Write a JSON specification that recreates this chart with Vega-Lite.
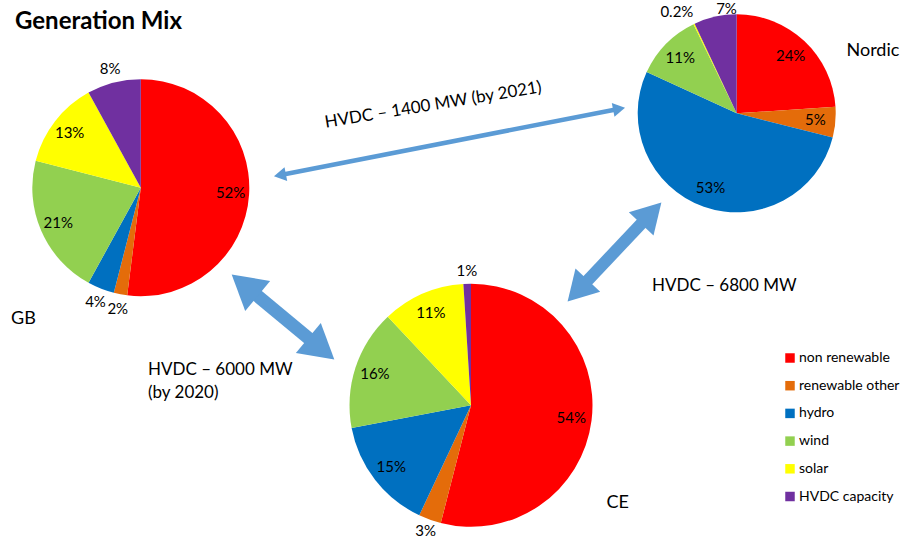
{
  "$schema": "https://vega.github.io/schema/vega-lite/v6.json",
  "width": 903,
  "height": 543,
  "padding": 0,
  "autosize": "none",
  "background": "white",
  "config": {"view": {"stroke": null}, "text": {"font": "Lato", "color": "#000000"}},
  "datasets": {
    "mix": [
      {"region": "GB", "source": "non renewable", "share": 52, "k": 1},
      {"region": "GB", "source": "renewable other", "share": 2, "k": 2},
      {"region": "GB", "source": "hydro", "share": 4, "k": 3},
      {"region": "GB", "source": "wind", "share": 21, "k": 4},
      {"region": "GB", "source": "solar", "share": 13, "k": 5},
      {"region": "GB", "source": "HVDC capacity", "share": 8, "k": 6},
      {"region": "Nordic", "source": "non renewable", "share": 24, "k": 1},
      {"region": "Nordic", "source": "renewable other", "share": 5, "k": 2},
      {"region": "Nordic", "source": "hydro", "share": 53, "k": 3},
      {"region": "Nordic", "source": "wind", "share": 11, "k": 4},
      {"region": "Nordic", "source": "solar", "share": 0.2, "k": 5},
      {"region": "Nordic", "source": "HVDC capacity", "share": 7, "k": 6},
      {"region": "CE", "source": "non renewable", "share": 54, "k": 1},
      {"region": "CE", "source": "renewable other", "share": 3, "k": 2},
      {"region": "CE", "source": "hydro", "share": 15, "k": 3},
      {"region": "CE", "source": "wind", "share": 16, "k": 4},
      {"region": "CE", "source": "solar", "share": 11, "k": 5},
      {"region": "CE", "source": "HVDC capacity", "share": 1, "k": 6}
    ]
  },
  "layer": [
    {
      "data": {"name": "mix"},
      "transform": [{"filter": "datum.region === 'GB'"}, {"calculate": "datum.share + '%'", "as": "label"}],
      "encoding": {
        "x": {"datum": 140.8, "type": "quantitative", "scale": {"domain": [0, 903], "nice": false}, "axis": null},
        "y": {"datum": 187.7, "type": "quantitative", "scale": {"domain": [0, 543], "nice": false, "reverse": true}, "axis": null},
        "theta": {"field": "share", "type": "quantitative", "stack": true},
        "order": {"field": "k", "type": "quantitative"},
        "detail": {"field": "source", "type": "nominal"}
      },
      "layer": [
        {
          "mark": {"type": "arc", "outerRadius": 108.5},
          "encoding": {
            "color": {
              "field": "source", "type": "nominal",
              "scale": {
                "domain": ["non renewable", "renewable other", "hydro", "wind", "solar", "HVDC capacity"],
                "range": ["#FF0000", "#E46C0A", "#0070C0", "#92D050", "#FFFF00", "#7030A0"]
              },
              "legend": {
                "title": null, "orient": "none", "legendX": 783, "legendY": 351,
                "symbolType": "square", "symbolSize": 90, "symbolStrokeWidth": 0,
                "labelFont": "Lato", "labelFontSize": 14, "labelColor": "#000000",
                "rowPadding": 13.7, "labelOffset": 2
              }
            }
          }
        },
        {
          "mark": {"type": "text", "radius": 90, "fontSize": 15},
          "encoding": {"text": {"condition": {"test": "datum.source === 'HVDC capacity' || datum.share < 5", "value": ""}, "field": "label", "type": "nominal"}}
        },
        {
          "mark": {"type": "text", "radius": 123, "fontSize": 15},
          "encoding": {"text": {"condition": {"test": "datum.source !== 'HVDC capacity' && datum.share >= 5", "value": ""}, "field": "label", "type": "nominal"}}
        }
      ]
    },
    {
      "data": {"name": "mix"},
      "transform": [{"filter": "datum.region === 'Nordic'"}, {"calculate": "datum.share + '%'", "as": "label"}],
      "encoding": {
        "x": {"datum": 736.7, "type": "quantitative", "scale": {"domain": [0, 903], "nice": false}, "axis": null},
        "y": {"datum": 113.3, "type": "quantitative", "scale": {"domain": [0, 543], "nice": false, "reverse": true}, "axis": null},
        "theta": {"field": "share", "type": "quantitative", "stack": true},
        "order": {"field": "k", "type": "quantitative"},
        "detail": {"field": "source", "type": "nominal"}
      },
      "layer": [
        {"mark": {"type": "arc", "outerRadius": 99}, "encoding": {"color": {"field": "source", "type": "nominal"}}},
        {
          "mark": {"type": "text", "radius": 79, "fontSize": 15},
          "encoding": {"text": {"condition": {"test": "datum.source === 'HVDC capacity' || datum.share < 5", "value": ""}, "field": "label", "type": "nominal"}}
        },
        {
          "mark": {"type": "text", "radius": 111, "fontSize": 15, "dx": -12, "dy": -1},
          "encoding": {"text": {"condition": {"test": "datum.source === 'solar'", "field": "label"}, "value": ""}}
        },
        {
          "mark": {"type": "text", "radius": 111, "fontSize": 15, "dx": 14, "dy": 4.5},
          "encoding": {"text": {"condition": {"test": "datum.source === 'HVDC capacity'", "field": "label"}, "value": ""}}
        }
      ]
    },
    {
      "data": {"name": "mix"},
      "transform": [{"filter": "datum.region === 'CE'"}, {"calculate": "datum.share + '%'", "as": "label"}],
      "encoding": {
        "x": {"datum": 471, "type": "quantitative", "scale": {"domain": [0, 903], "nice": false}, "axis": null},
        "y": {"datum": 405.3, "type": "quantitative", "scale": {"domain": [0, 543], "nice": false, "reverse": true}, "axis": null},
        "theta": {"field": "share", "type": "quantitative", "stack": true},
        "order": {"field": "k", "type": "quantitative"},
        "detail": {"field": "source", "type": "nominal"}
      },
      "layer": [
        {"mark": {"type": "arc", "outerRadius": 121.5}, "encoding": {"color": {"field": "source", "type": "nominal"}}},
        {
          "mark": {"type": "text", "radius": 101, "fontSize": 15},
          "encoding": {"text": {"condition": {"test": "datum.source === 'HVDC capacity' || datum.share < 5", "value": ""}, "field": "label", "type": "nominal"}}
        },
        {
          "mark": {"type": "text", "radius": 134, "fontSize": 15},
          "encoding": {"text": {"condition": {"test": "datum.source !== 'HVDC capacity' && datum.share >= 5", "value": ""}, "field": "label", "type": "nominal"}}
        }
      ]
    },
    {
      "data": {"values": [{}]},
      "mark": {"type": "rule", "color": "#5B9BD5", "strokeWidth": 4.5},
      "encoding": {
        "x": {"datum": 281.9, "type": "quantitative", "scale": {"domain": [0, 903], "nice": false}, "axis": null},
        "y": {"datum": 174.8, "type": "quantitative", "scale": {"domain": [0, 543], "nice": false, "reverse": true}, "axis": null},
        "x2": {"datum": 617.1},
        "y2": {"datum": 109.2}
      }
    },
    {
      "data": {"values": [{}]},
      "mark": {"type": "point", "shape": "triangle", "size": 196, "angle": 78.9, "filled": true, "color": "#5B9BD5", "opacity": 1},
      "encoding": {
        "x": {"datum": 617.1, "type": "quantitative", "scale": {"domain": [0, 903], "nice": false}, "axis": null},
        "y": {"datum": 109.2, "type": "quantitative", "scale": {"domain": [0, 543], "nice": false, "reverse": true}, "axis": null}
      }
    },
    {
      "data": {"values": [{}]},
      "mark": {"type": "point", "shape": "triangle", "size": 196, "angle": 258.9, "filled": true, "color": "#5B9BD5", "opacity": 1},
      "encoding": {
        "x": {"datum": 281.9, "type": "quantitative", "scale": {"domain": [0, 903], "nice": false}, "axis": null},
        "y": {"datum": 174.8, "type": "quantitative", "scale": {"domain": [0, 543], "nice": false, "reverse": true}, "axis": null}
      }
    },
    {
      "data": {"values": [{}]},
      "mark": {"type": "rule", "color": "#5B9BD5", "strokeWidth": 13},
      "encoding": {
        "x": {"datum": 249, "type": "quantitative", "scale": {"domain": [0, 903], "nice": false}, "axis": null},
        "y": {"datum": 288.8, "type": "quantitative", "scale": {"domain": [0, 543], "nice": false, "reverse": true}, "axis": null},
        "x2": {"datum": 317},
        "y2": {"datum": 345.2}
      }
    },
    {
      "data": {"values": [{}]},
      "mark": {"type": "point", "shape": "triangle", "size": 1521, "angle": 129.7, "filled": true, "color": "#5B9BD5", "opacity": 1},
      "encoding": {
        "x": {"datum": 317, "type": "quantitative", "scale": {"domain": [0, 903], "nice": false}, "axis": null},
        "y": {"datum": 345.2, "type": "quantitative", "scale": {"domain": [0, 543], "nice": false, "reverse": true}, "axis": null}
      }
    },
    {
      "data": {"values": [{}]},
      "mark": {"type": "point", "shape": "triangle", "size": 1521, "angle": 309.7, "filled": true, "color": "#5B9BD5", "opacity": 1},
      "encoding": {
        "x": {"datum": 249, "type": "quantitative", "scale": {"domain": [0, 903], "nice": false}, "axis": null},
        "y": {"datum": 288.8, "type": "quantitative", "scale": {"domain": [0, 543], "nice": false, "reverse": true}, "axis": null}
      }
    },
    {
      "data": {"values": [{}]},
      "mark": {"type": "rule", "color": "#5B9BD5", "strokeWidth": 12},
      "encoding": {
        "x": {"datum": 581.1, "type": "quantitative", "scale": {"domain": [0, 903], "nice": false}, "axis": null},
        "y": {"datum": 287.3, "type": "quantitative", "scale": {"domain": [0, 543], "nice": false, "reverse": true}, "axis": null},
        "x2": {"datum": 647.9},
        "y2": {"datum": 216.7}
      }
    },
    {
      "data": {"values": [{}]},
      "mark": {"type": "point", "shape": "triangle", "size": 1156, "angle": 43.4, "filled": true, "color": "#5B9BD5", "opacity": 1},
      "encoding": {
        "x": {"datum": 647.9, "type": "quantitative", "scale": {"domain": [0, 903], "nice": false}, "axis": null},
        "y": {"datum": 216.7, "type": "quantitative", "scale": {"domain": [0, 543], "nice": false, "reverse": true}, "axis": null}
      }
    },
    {
      "data": {"values": [{}]},
      "mark": {"type": "point", "shape": "triangle", "size": 1156, "angle": 223.4, "filled": true, "color": "#5B9BD5", "opacity": 1},
      "encoding": {
        "x": {"datum": 581.1, "type": "quantitative", "scale": {"domain": [0, 903], "nice": false}, "axis": null},
        "y": {"datum": 287.3, "type": "quantitative", "scale": {"domain": [0, 543], "nice": false, "reverse": true}, "axis": null}
      }
    },
    {
      "data": {"values": [{"caption": "Generation Mix"}]},
      "mark": {"type": "text", "align": "left", "baseline": "alphabetic", "fontSize": 24, "fontWeight": "bold"},
      "encoding": {
        "text": {"field": "caption", "type": "nominal"},
        "x": {"datum": 15, "type": "quantitative", "scale": {"domain": [0, 903], "nice": false}, "axis": null},
        "y": {"datum": 29, "type": "quantitative", "scale": {"domain": [0, 543], "nice": false, "reverse": true}, "axis": null}
      }
    },
    {
      "data": {"values": [{"caption": "GB"}]},
      "mark": {"type": "text", "align": "left", "baseline": "alphabetic", "fontSize": 18},
      "encoding": {
        "text": {"field": "caption", "type": "nominal"},
        "x": {"datum": 11, "type": "quantitative", "scale": {"domain": [0, 903], "nice": false}, "axis": null},
        "y": {"datum": 324, "type": "quantitative", "scale": {"domain": [0, 543], "nice": false, "reverse": true}, "axis": null}
      }
    },
    {
      "data": {"values": [{"caption": "Nordic"}]},
      "mark": {"type": "text", "align": "left", "baseline": "alphabetic", "fontSize": 18},
      "encoding": {
        "text": {"field": "caption", "type": "nominal"},
        "x": {"datum": 846.5, "type": "quantitative", "scale": {"domain": [0, 903], "nice": false}, "axis": null},
        "y": {"datum": 56, "type": "quantitative", "scale": {"domain": [0, 543], "nice": false, "reverse": true}, "axis": null}
      }
    },
    {
      "data": {"values": [{"caption": "CE"}]},
      "mark": {"type": "text", "align": "left", "baseline": "alphabetic", "fontSize": 18},
      "encoding": {
        "text": {"field": "caption", "type": "nominal"},
        "x": {"datum": 606.5, "type": "quantitative", "scale": {"domain": [0, 903], "nice": false}, "axis": null},
        "y": {"datum": 508, "type": "quantitative", "scale": {"domain": [0, 543], "nice": false, "reverse": true}, "axis": null}
      }
    },
    {
      "data": {"values": [{"caption": "HVDC – 1400 MW (by 2021)"}]},
      "mark": {"type": "text", "align": "center", "baseline": "alphabetic", "fontSize": 17, "angle": -9.3},
      "encoding": {
        "text": {"field": "caption", "type": "nominal"},
        "x": {"datum": 434, "type": "quantitative", "scale": {"domain": [0, 903], "nice": false}, "axis": null},
        "y": {"datum": 110, "type": "quantitative", "scale": {"domain": [0, 543], "nice": false, "reverse": true}, "axis": null}
      }
    },
    {
      "data": {"values": [{"caption": "HVDC – 6000 MW\n(by 2020)"}]},
      "mark": {"type": "text", "align": "left", "baseline": "alphabetic", "fontSize": 17, "lineBreak": "\n", "lineHeight": 23},
      "encoding": {
        "text": {"field": "caption", "type": "nominal"},
        "x": {"datum": 148, "type": "quantitative", "scale": {"domain": [0, 903], "nice": false}, "axis": null},
        "y": {"datum": 375, "type": "quantitative", "scale": {"domain": [0, 543], "nice": false, "reverse": true}, "axis": null}
      }
    },
    {
      "data": {"values": [{"caption": "HVDC – 6800 MW"}]},
      "mark": {"type": "text", "align": "left", "baseline": "alphabetic", "fontSize": 17},
      "encoding": {
        "text": {"field": "caption", "type": "nominal"},
        "x": {"datum": 652, "type": "quantitative", "scale": {"domain": [0, 903], "nice": false}, "axis": null},
        "y": {"datum": 291, "type": "quantitative", "scale": {"domain": [0, 543], "nice": false, "reverse": true}, "axis": null}
      }
    }
  ],
  "resolve": {"scale": {"theta": "independent"}}
}
